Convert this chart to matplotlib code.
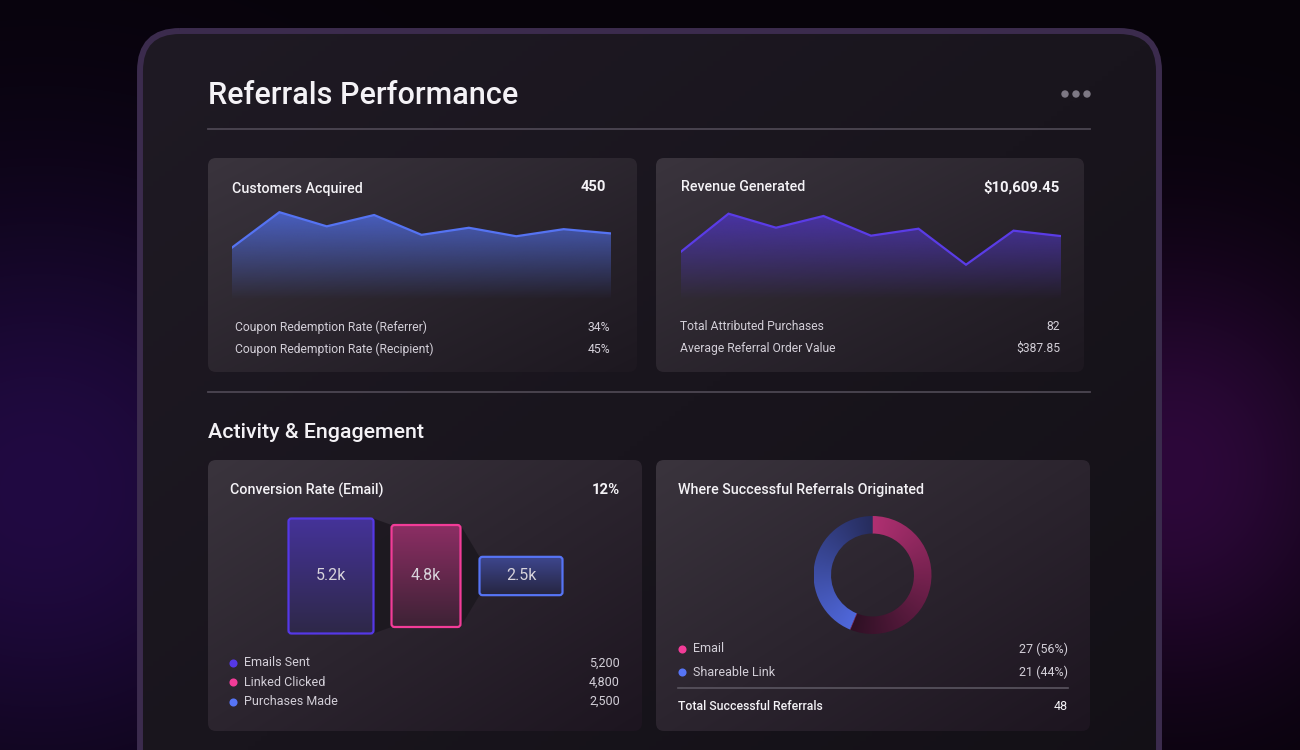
import numpy as np
import matplotlib
matplotlib.use('Agg')
import matplotlib.pyplot as plt
from matplotlib.patches import FancyBboxPatch, Polygon, Circle
from matplotlib.colors import to_rgb

W, H = 1300, 750

# ---- data ----
customers = [37, 62, 52, 60, 46, 51, 45, 50, 47]
revenue = [861.20, 1538.75, 1289.10, 1497.80, 1146.40, 1271.15, 629.30, 1236.05, 1139.70]

coupon_labels = ['Coupon Redemption Rate (Referrer)', 'Coupon Redemption Rate (Recipient)']
coupon_rates = [34, 45]

revenue_labels = ['Total Attributed Purchases', 'Average Referral Order Value']
revenue_stats = ['82', '$387.85']

funnel_labels = ['Emails Sent', 'Linked Clicked', 'Purchases Made']
funnel_values = [5200, 4800, 2500]
conversion_rate = 12

source_labels = ['Email', 'Shareable Link']
source_counts = [27, 21]

# ---- styles ----
plt.rcParams['font.family'] = ['Roboto', 'DejaVu Sans']
HEAD = dict(fontweight='medium')
BOLD = dict(fontweight='bold')
WHITE = '#f4f2f6'
BODY = '#d3cfd8'
funnel_edge = ['#5538e6', '#f23c98', '#5674f5']
funnel_top = ['#45339a', '#8c2e64', '#3e4790']
funnel_bot = ['#2e2848', '#3d2235', '#262540']
funnel_widths = [85, 69, 83]
source_colors = ['#f23c98', '#5674f5']
source_bright = ['#b03072', '#5068dc']
source_dark = ['#2e1024', '#262c5c']


def px_axes(x0, y0, x1, y1):
    a = fig.add_axes([x0 / W, 1 - y1 / H, (x1 - x0) / W, (y1 - y0) / H])
    a.axis('off')
    return a


def grad(c0, c1, mode='diag', n=160, a0=1.0, a1=1.0):
    u = np.linspace(0, 1, n)
    X, Y = np.meshgrid(u, u)
    t = (X + Y) / 2 if mode == 'diag' else Y
    c0, c1 = np.array(to_rgb(c0)), np.array(to_rgb(c1))
    rgb = c0 + (c1 - c0) * t[..., None]
    alpha = a0 + (a1 - a0) * t
    return np.dstack([rgb, alpha])


def card(x, y, w, h, c0='#3a343d', c1='#1d1820', r=8):
    p = FancyBboxPatch((x, y), w, h, boxstyle=f'round,pad=0,rounding_size={r}',
                       fc='none', ec='none', zorder=2)
    bg.add_patch(p)
    im = bg.imshow(grad(c0, c1), extent=[x, x + w, y + h, y], aspect='auto', zorder=2)
    im.set_clip_path(p)


fig = plt.figure(figsize=(13, 7.5), dpi=100)
bg = fig.add_axes([0, 0, 1, 1])
bg.axis('off')

# page background with purple glows
yy, xx = np.mgrid[0:H, 0:W]
base = np.array(to_rgb('#07030a'))
g1 = np.exp(-(((xx - 40) / 300.0) ** 2 + ((yy - 490) / 290.0) ** 2))
g2 = np.exp(-(((xx - 1175) / 190.0) ** 2 + ((yy - 470) / 210.0) ** 2))
img = base + (np.array(to_rgb('#210a42')) - base) * g1[..., None] \
    + (np.array(to_rgb('#2d083a')) - base) * g2[..., None]
bg.imshow(np.clip(img, 0, 1), extent=[0, W, H, 0], aspect='auto', zorder=0)

# device frame
frame = FancyBboxPatch((140, 31), 1019, 800, boxstyle='round,pad=0,rounding_size=40',
                       fc='none', ec='none', zorder=1)
bg.add_patch(frame)
fim = bg.imshow(grad('#1f1a24', '#131016'), extent=[140, 1159, 831, 31], aspect='auto', zorder=1)
fim.set_clip_path(frame)
bg.add_patch(FancyBboxPatch((140, 31), 1019, 800, boxstyle='round,pad=0,rounding_size=40',
                            fc='none', ec='#3b2b4d', lw=4.3, zorder=1.5))

# header
bg.text(208, 96, 'Referrals Performance', color=WHITE, fontsize=22, va='center', zorder=5, **HEAD)
for cx in [1065, 1076, 1087]:
    bg.add_patch(Circle((cx, 94), 3.0, color='#7d7884', zorder=5))
bg.plot([208, 1090], [129, 129], color='#4c4652', lw=1.3, zorder=3)
bg.plot([208, 1090], [392, 392], color='#4c4652', lw=1.3, zorder=3)
bg.text(208, 432, 'Activity & Engagement', color=WHITE, fontsize=15.4, va='center', zorder=5, **HEAD)

# cards
card(208, 158, 429, 214)
card(656, 158, 428, 214)
card(208, 460, 434, 271, c1='#1d1520')
card(656, 460, 434, 271, c1='#1d1520')

# ---- card 1: customers acquired ----
bg.text(232, 189, 'Customers Acquired', color=WHITE, fontsize=10.3, va='center', zorder=5, **HEAD)
bg.text(606, 187, f'{sum(customers)}', color=WHITE, fontsize=10.6,
        ha='right', va='center', zorder=5, **BOLD)
for i, (lab, v) in enumerate(zip(coupon_labels, coupon_rates)):
    y = 327.5 + 22 * i
    bg.text(235, y, lab, color=BODY, fontsize=8.75, va='center', zorder=5)
    bg.text(610, y, f'{v}%', color=BODY, fontsize=8.75, ha='right', va='center', zorder=5)


def area(ax, vals, ymax, line_c, fill_c):
    x = np.arange(len(vals))
    ax.set_xlim(0, len(vals) - 1)
    ax.set_ylim(0, ymax)
    poly = ax.fill_between(x, vals, 0, color='none', lw=0)
    im = ax.imshow(grad(fill_c, fill_c, mode='v', a0=0.95, a1=0.0),
                   extent=[0, len(vals) - 1, 0, max(vals)], aspect='auto', zorder=1)
    im.set_clip_path(poly.get_paths()[0], transform=ax.transData)
    ax.set_xlim(0, len(vals) - 1)
    ax.set_ylim(0, ymax)
    ax.plot(x, vals, color=line_c, lw=1.6, zorder=3, solid_joinstyle='miter')


a1 = px_axes(232, 200, 611, 300)
area(a1, customers, 70.6, '#5573f2', '#4a62c8')

# ---- card 2: revenue generated ----
bg.text(681, 187, 'Revenue Generated', color=WHITE, fontsize=10.3, va='center', zorder=5, **HEAD)
bg.text(1060, 187, f'${sum(revenue):,.2f}', color=WHITE, fontsize=10.7,
        ha='right', va='center', zorder=5, **BOLD)
for i, (lab, v) in enumerate(zip(revenue_labels, revenue_stats)):
    y = 326.5 + 22 * i
    bg.text(680, y, lab, color=BODY, fontsize=8.75, va='center', zorder=5)
    bg.text(1060, y, v, color=BODY, fontsize=8.75, ha='right', va='center', zorder=5)

a2 = px_axes(681, 200, 1061, 300)
area(a2, revenue, 1783, '#5a3ce6', '#4a34aa')

# ---- card 3: funnel ----
bg.text(230, 490, 'Conversion Rate (Email)', color=WHITE, fontsize=10.3, va='center', zorder=5, **HEAD)
bg.text(620, 490, f'{conversion_rate}%', color=WHITE, fontsize=10.7,
        ha='right', va='center', zorder=5, **BOLD)

af = px_axes(283.5, 516, 568.5, 636)
ymax_f = funnel_values[0] * 60 / 115
af.set_xlim(-0.5, 2.5)
af.set_ylim(-ymax_f, ymax_f)
heights = [funnel_values[0] * (v / funnel_values[0]) ** 1.5 for v in funnel_values]
widths = [w / 95 for w in funnel_widths]
xpx = 1 / 95
ypx = 2 * ymax_f / 120
for i in range(len(funnel_values) - 1):
    xa = i + widths[i] / 2
    xb = i + 1 - widths[i + 1] / 2
    af.add_patch(Polygon([(xa, heights[i] / 2), (xb, heights[i + 1] / 2),
                          (xb, -heights[i + 1] / 2), (xa, -heights[i] / 2)],
                         closed=True, fc='#1c181f', ec='none', alpha=0.9, zorder=1))
for i, v in enumerate(funnel_values):
    x0, y0, w, h = i - widths[i] / 2, -heights[i] / 2, widths[i], heights[i]
    p = FancyBboxPatch((x0, y0), w, h, boxstyle=f'round,pad=0,rounding_size={3 * xpx}',
                       mutation_aspect=ypx / xpx, fc='none', ec='none', zorder=2)
    af.add_patch(p)
    im = af.imshow(grad(funnel_top[i], funnel_bot[i], mode='v'),
                   extent=[x0, x0 + w, y0, y0 + h], aspect='auto', zorder=2)
    im.set_clip_path(p)
    af.add_patch(FancyBboxPatch((x0, y0), w, h, boxstyle=f'round,pad=0,rounding_size={3 * xpx}',
                                mutation_aspect=ypx / xpx, fc='none', ec=funnel_edge[i],
                                lw=1.6, zorder=3))
    af.text(i, 0, f'{v / 1000:.1f}k', color='#d8d4dc', fontsize=11.5, ha='center',
            va='center', zorder=4)
af.set_xlim(-0.5, 2.5)
af.set_ylim(-ymax_f, ymax_f)

for i, (lab, v) in enumerate(zip(funnel_labels, funnel_values)):
    y = 663 + 19.3 * i
    bg.scatter([233], [y], s=34, color=funnel_edge[i], zorder=5, lw=0)
    bg.text(244, y, lab, color=BODY, fontsize=9.0, va='center', zorder=5)
    bg.text(620, y, f'{v:,}', color=BODY, fontsize=9.0, ha='right', va='center', zorder=5)

# ---- card 4: donut ----
bg.text(678, 490, 'Where Successful Referrals Originated', color=WHITE, fontsize=10.3,
        va='center', zorder=5, **HEAD)
ad = px_axes(813.5, 516, 931.5, 634)
wedges, _ = ad.pie(source_counts, startangle=90, counterclock=False, radius=1,
                   wedgeprops=dict(width=0.297, lw=0))
n = 300
u = np.linspace(-1, 1, n)
X, Y = np.meshgrid(u, u[::-1])
ang = np.degrees(np.arctan2(Y, X))
for i, wdg in enumerate(wedges):
    t1, t2 = wdg.theta1, wdg.theta2
    a = t1 + (ang - t1) % 360
    t = np.clip((t2 - a) / (t2 - t1), 0, 1)
    c0, c1 = np.array(to_rgb(source_bright[i])), np.array(to_rgb(source_dark[i]))
    rgb = c0 + (c1 - c0) * t[..., None]
    wdg.set_facecolor('none')
    im = ad.imshow(rgb, extent=[-1, 1, -1, 1], zorder=2)
    im.set_clip_path(wdg)
ad.set_xlim(-1, 1)
ad.set_ylim(-1, 1)

total = sum(source_counts)
for i, (lab, c) in enumerate(zip(source_labels, source_counts)):
    y = 649 + 23 * i
    bg.scatter([682], [y], s=34, color=source_colors[i], zorder=5, lw=0)
    bg.text(693, y, lab, color=BODY, fontsize=9.0, va='center', zorder=5)
    bg.text(1068, y, f'{c} ({round(100 * c / total)}%)', color=BODY, fontsize=9.0,
            ha='right', va='center', zorder=5)
bg.plot([678, 1068], [688, 688], color='#5a5560', lw=1.2, zorder=3)
bg.text(678, 706, 'Total Successful Referrals', color=WHITE, fontsize=8.8, va='center',
        zorder=5, **HEAD)
bg.text(1068, 706, f'{total}', color=WHITE, fontsize=9.0, ha='right', va='center', zorder=5)

bg.set_xlim(0, W)
bg.set_ylim(H, 0)
fig.savefig('out.png', dpi=100)
